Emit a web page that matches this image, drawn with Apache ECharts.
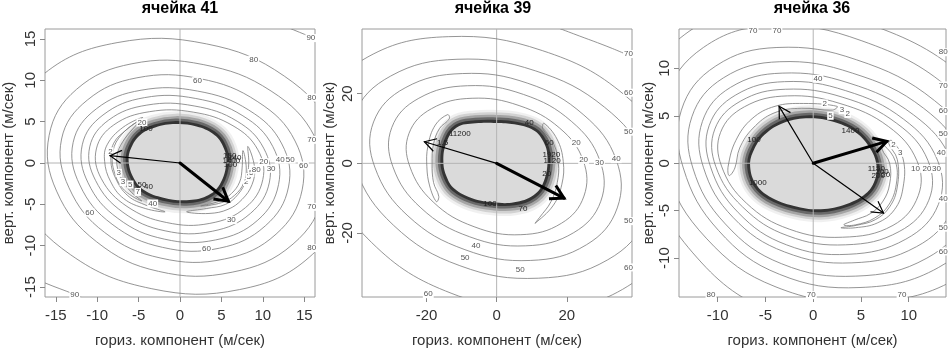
<!DOCTYPE html>
<html><head><meta charset="utf-8">
<script src="https://cdn.jsdelivr.net/npm/echarts@6/dist/echarts.min.js"></script>
<style>html,body{margin:0;padding:0;background:#fff}#c{width:950px;height:348px}</style>
</head><body><div id="c"></div>
<script>
// ---------- DATA ----------
const titles = ['ячейка 41', 'ячейка 39', 'ячейка 36'];
const xName = 'гориз. компонент (м/сек)';
const yName = 'верт. компонент (м/сек)';

const ticks41 = [-15, -10, -5, 0, 5, 10, 15];
const ticks39 = [-20, 0, 20];
const ticks36 = [-10, -5, 0, 5, 10];

const xRange41 = [-16.3, 16.3], yRange41 = [-16.2, 16.2];
const xRange39 = [-38.4, 38.6], yRange39 = [-38.4, 38.6];
const xRange36 = [-14.05, 13.9], yRange36 = [-14.1, 14.15];

// central (unstable) region outline
const core41 = [[5.6,0.2],[5.1,2.2],[4.0,3.5],[2,4.4],[-0.5,4.7],[-3,4.3],[-4.8,3.4],[-5.9,1.8],[-6.2,0.2],[-5.6,-1.8],[-4.3,-3.3],[-2,-4.2],[0.8,-4.5],[3.2,-4.0],[4.8,-2.6]];
const core39 = [[14.5,2],[13.2,6.5],[10.5,9.5],[5,11.2],[0,11.6],[-6,11.5],[-11.4,10.3],[-14.3,6],[-15.2,0.5],[-14.2,-4],[-12,-7.3],[-7,-10],[-1,-11.2],[5,-11.2],[10.5,-9.2],[13.5,-5]];
const core36 = [[6.65,-0.4],[6.0,1.5],[4.4,3.3],[2,4.4],[-0.4,4.75],[-3,4.3],[-5.1,3.0],[-6.3,1.2],[-6.6,-0.4],[-6.0,-2.2],[-4.6,-3.5],[-2,-4.5],[0.8,-4.85],[3.5,-4.3],[5.5,-3.2],[6.4,-1.9]];

// closed contour lines (outer -> inner)
const rings41 = [
 [[19.8,-4.3],[18.6,3.75],[12.6,10.5],[3.2,14.4],[-7.6,14.55],[-16.4,10.8],[-20.8,4.05],[-19.5,-3.95],[-13.2,-11.1],[-3.4,-15.2],[7.2,-15.3],[15.6,-11.4]],
 [[17.3,-3.7],[16.3,3.1],[11.0,8.7],[2.8,11.9],[-5.8,12.0],[-12.5,8.9],[-15.8,3.35],[-14.9,-3.4],[-10.1,-9.5],[-2.6,-13.1],[6.3,-13.2],[13.65,-9.8]],
 [[14.75,-3.25],[13.9,2.65],[9.4,7.4],[2.4,10.2],[-5.2,10.3],[-11.2,7.6],[-14.3,2.9],[-13.4,-3.0],[-9.1,-8.4],[-2.3,-11.5],[5.4,-11.6],[11.6,-8.6]],
 [[13.1,-2.9],[12.3,2.3],[8.3,6.4],[2.1,8.7],[-4.7,8.8],[-10.1,6.55],[-12.9,2.5],[-12.1,-2.65],[-8.2,-7.4],[-2.1,-10.2],[4.75,-10.3],[10.3,-7.6]],
 [[11.9,-2.6],[11.2,2.0],[7.6,5.7],[1.9,7.8],[-4.3,7.9],[-9.3,5.8],[-11.8,2.2],[-11.1,-2.4],[-7.5,-6.7],[-1.9,-9.2],[4.3,-9.3],[9.4,-6.9]],
 [[10.8,-2.3],[10.1,1.8],[6.9,5.05],[1.7,6.9],[-4.0,7.0],[-8.6,5.2],[-10.9,1.95],[-10.2,-2.1],[-6.9,-5.95],[-1.8,-8.2],[3.9,-8.25],[8.5,-6.1]],
 [[10.0,-2.0],[9.4,1.6],[6.4,4.5],[1.6,6.15],[-3.7,6.2],[-8.0,4.6],[-10.1,1.7],[-9.5,-1.9],[-6.4,-5.25],[-1.6,-7.2],[3.6,-7.3],[7.9,-5.4]]
];
const fingers41 = [
 [[-4.5,5.5],[-6.9,4.3],[-8.8,2.2],[-9.1,0.2],[-8.4,-2.2],[-6.8,-4.3],[-4.2,-5.5],[-1.8,-5.9],[-4.0,-5.15],[-6.3,-3.95],[-7.8,-1.8],[-8.35,0.3],[-8.0,2.4],[-6.5,4.0]],
 [[-5.0,5.0],[-7.0,3.5],[-8.1,1.4],[-7.9,-1.2],[-6.7,-3.3],[-4.6,-4.6],[-6.1,-3.3],[-7.35,-1.25],[-7.6,0.8],[-6.9,2.6]],
 [[8.2,2.0],[9.0,-0.5],[8.7,-2.6],[7.5,-4.4],[5.8,-5.6],[3.5,-6.1],[0.8,-5.9],[3.2,-5.5],[5.5,-5.0],[7.0,-3.8],[8.0,-2.0],[8.3,0.0]],
 [[7.6,1.5],[8.0,-0.6],[7.7,-2.4],[6.6,-3.9],[5.0,-4.8],[2.5,-5.2],[4.8,-4.6],[6.2,-3.7],[7.2,-2.3],[7.5,-0.6]]
];
const open41 = [
 [[11.5,17.0],[13.7,16.1],[16.3,15.0],[17.5,14.3]],
 [[-17.5,-13.9],[-16.3,-14.5],[-12.7,-15.9],[-10.5,-16.9]]
];

const rings39 = [
 [[50.4,-19.3],[49.9,1.5],[36.4,19.7],[13,32.4],[-13.8,36.4],[-36.7,30.6],[-49.5,16.7],[-49,-1.7],[-35.7,-22.7],[-12.75,-37.4],[14,-42],[37.4,-35.3]],
 [[42.7,-15.2],[42.2,1.2],[30.8,16.1],[11.0,26.6],[-11.3,29.9],[-30.2,25.1],[-40.7,13.75],[-40.3,-1.3],[-29.4,-17.8],[-10.5,-29.4],[11.9,-33],[31.7,-27.7]],
 [[34.4,-12.8],[34.1,1.0],[24.85,13.9],[8.9,23.0],[-9.8,25.8],[-26.1,21.7],[-35.1,11.9],[-34.75,-1.1],[-25.3,-15.1],[-9.05,-24.8],[9.6,-27.9],[25.6,-23.4]],
 [[29.7,-10.9],[29.4,0.9],[21.4,12.0],[7.65,19.8],[-8.3,22.3],[-22.2,18.7],[-29.9,10.3],[-29.6,-0.95],[-21.6,-12.8],[-7.7,-21.1],[8.3,-23.7],[22.0,-19.9]],
 [[24.9,-9.4],[24.7,0.75],[18.0,10.1],[6.4,16.6],[-7.0,18.7],[-18.6,15.7],[-25.0,8.6],[-24.8,-0.8],[-18.1,-11.1],[-6.45,-18.2],[6.9,-20.5],[18.5,-17.2]]
];
const fingers39 = [
 [[-14,14],[-17.5,11],[-19.6,5],[-19.9,-1],[-19.1,-6.5],[-17.2,-11],[-16.5,-9.5],[-18,-5.5],[-18.4,0],[-18.0,5.5],[-16.3,10],[-13.5,12.8]],
 [[13.5,11.5],[17.2,7],[19,0.5],[18.6,-6],[16.2,-12],[11,-17.2],[12.2,-15.6],[15.5,-11],[17.3,-5.5],[17.6,0],[16.3,5.5],[13.2,9.8]]
];
const open39 = [
 [[12,41],[22,37.2],[33,33],[41,29.5]]
];

const rings36 = [
 [[22.3,-8.05],[22.1,0.66],[16.1,8.9],[5.75,14.7],[-4.9,16.5],[-13.0,13.9],[-17.5,7.6],[-17.3,-0.7],[-12.6,-9.45],[-4.5,-15.6],[6.2,-17.5],[16.6,-14.7]],
 [[19.9,-6.7],[19.7,0.58],[14.35,7.8],[5.1,12.9],[-4.3,14.5],[-11.5,12.2],[-15.5,6.7],[-15.4,-0.58],[-11.2,-7.9],[-4.0,-13.0],[5.5,-14.6],[14.8,-12.3]],
 [[17.65,-6.0],[17.5,0.5],[12.7,6.6],[4.55,10.9],[-3.8,12.2],[-10.2,10.25],[-13.8,5.6],[-13.6,-0.5],[-9.9,-7.1],[-3.55,-11.7],[4.9,-13.1],[13.1,-11.0]],
 [[16.0,-5.5],[15.8,0.43],[11.55,5.8],[4.1,9.5],[-3.5,10.7],[-9.4,9.0],[-12.7,4.9],[-12.6,-0.5],[-9.2,-6.4],[-3.3,-10.6],[4.45,-11.9],[11.9,-10.0]],
 [[14.55,-4.8],[14.4,0.38],[10.5,5.1],[3.75,8.45],[-3.25,9.5],[-8.65,8.0],[-11.6,4.4],[-11.5,-0.42],[-8.4,-5.7],[-3.0,-9.35],[4.05,-10.5],[10.8,-8.8]],
 [[13.1,-4.35],[13.0,0.34],[9.45,4.65],[3.4,7.65],[-3.0,8.6],[-8.1,7.2],[-10.9,3.95],[-10.75,-0.38],[-7.85,-5.2],[-2.8,-8.6],[3.65,-9.6],[9.7,-8.0]],
 [[12.1,-3.9],[12.0,0.31],[8.75,4.2],[3.1,6.95],[-2.9,7.8],[-7.6,6.55],[-10.3,3.6],[-10.2,-0.34],[-7.4,-4.6],[-2.65,-7.65],[3.4,-8.6],[9.0,-7.2]],
 [[11.0,-3.4],[10.85,0.28],[7.9,3.85],[2.8,6.3],[-2.7,7.1],[-7.2,5.95],[-9.7,3.25],[-9.6,-0.3],[-7.0,-4.2],[-2.5,-6.95],[3.05,-7.8],[8.35,-6.55]]
];
const fingers36 = [
 [[2.5,6.0],[-1,6.3],[-4,6.0],[-6.4,4.7],[-8.1,2.4],[-8.9,-0.3],[-8.8,-1.3],[-8.2,-0.5],[-7.7,1.6],[-6.3,3.7],[-4.1,5.3],[-1.2,5.8],[2,5.6]],
 [[7.4,1.9],[8.6,0.2],[8.7,-2.2],[7.9,-4.4],[6.4,-5.8],[4.4,-6.5],[3.2,-6.5],[4.3,-6.0],[6.0,-5.3],[7.3,-4.0],[8.0,-2.2],[8.0,0],[7.2,1.5]],
 [[8.2,2.4],[9.4,0.5],[9.4,-2.6],[8.5,-4.9],[6.7,-6.3],[4.4,-6.8],[2.9,-6.8],[4.5,-6.55],[6.5,-5.95],[8.0,-4.6],[8.8,-2.5],[8.8,0.4],[7.9,2.1]]
];
const open36 = [];

// arrows: [x0, y0, x1, y1]
const thin41 = [[0,0,-8.44,0.88]];
const thick41 = [[0,0,5.83,-4.62]];
const thin39 = [[0,0,-20.6,6.2]];
const thick39 = [[0,0,19.2,-10.0]];
const thin36 = [[0,0,-3.57,6.0],[0,0,7.35,-5.25]];
const thick36 = [[0,0,7.7,2.3]];

// contour labels: [text, x, y]
const labels41 = [
 ['90',15.8,15.1],['80',8.9,12.5],['60',2.1,9.9],['80',15.9,7.9],['70',15.9,2.8],['60',14.9,-0.3],
 ['50',13.3,0.4],['40',12.1,0.4],['30',11.0,-0.7],['20',10.1,0.1],['70',15.9,-5.3],['30',6.2,-6.9],
 ['60',3.2,-10.4],['80',15.9,-10.3],['60',-10.9,-6.0],['40',-3.3,-4.9],['90',-12.7,-15.9],['20',-4.6,4.9],
 ['2',-8.4,1.4],['3',-7.4,-1.2],['3',-6.9,-2.3],['5',-6.0,-2.6],['7',-5.1,-3.5],
 ['2',8.0,-2.3],['3',8.3,-1.7],['5',8.6,-1.2],['80',9.2,-0.8]
];
const band41 = [['150',6.0,0.9],['1400',6.2,0.3],['100',6.1,-0.2],['140',6.6,0.6],['50',-4.6,-2.6],['40',-3.8,-2.9],['100',-4.1,4.1]];
const labels39 = [
 ['70',37.6,31.4],['60',37.6,20.3],['50',37.6,9.1],['40',34.1,1.2],['30',29.3,0.2],['20',24.8,1.0],['20',22.7,5.8],
 ['50',37.6,-16.6],['60',37.6,-29.9],['40',-5.9,-23.8],['50',-9,-27.1],['50',6.7,-30.5],['60',-19.5,-37.6]
];
const band39 = [['11200',-10.5,8.4],['40',9.3,11.7],['60',15.0,5.8],['1920',15.6,2.4],['1120',15.8,0.6],['20',14.3,-3.0],['100',-1.9,-11.5],['70',7.5,-13.2],['1.5',-15.4,5.8]];
const labels36 = [
 ['80',13.6,11.7],['70',13.6,8.2],['60',13.6,5.5],['50',13.6,3.1],['40',13.4,1.1],['40',13.6,-3.7],['50',13.6,-6.8],
 ['60',13.6,-9.3],['70',9.3,-13.9],['70',-0.2,-13.9],['80',-10.7,-13.9],['70',-6.3,14.0],['70',-3.8,14.0],['40',0.5,8.9],
 ['10',10.7,-0.6],['20',11.9,-0.6],['30',12.9,-0.6],['2',1.2,6.3],['3',3.0,5.6],['2',3.6,5.2],['2',8.4,1.9],['3',9.1,1.1],['5',1.8,5.0]
];
const band36 = [['100',-6.2,2.5],['1000',-5.8,-2.1],['1400',3.9,3.4],['1150',6.6,-0.6],['200',7.2,-0.9],['20',7.6,-1.2],['200',6.8,-1.3]];

// ---------- CHART ----------
const FONT = '"Liberation Sans", Arial, sans-serif';
const panels = [
 {grid:{left:45, top:29, width:270, height:268}, xr:xRange41, yr:yRange41, xt:ticks41, yt:ticks41, core:core41, closed:rings41.concat(fingers41), open:open41, thin:thin41, thick:thick41, labels:labels41, band:band41, yNameX:9, cx:180},
 {grid:{left:362, top:29, width:270, height:268}, xr:xRange39, yr:yRange39, xt:ticks39, yt:ticks39, core:core39, closed:rings39.concat(fingers39), open:open39, thin:thin39, thick:thick39, labels:labels39, band:band39, yNameX:330, cx:493},
 {grid:{left:679, top:29, width:267, height:268}, xr:xRange36, yr:yRange36, xt:ticks36, yt:ticks36, core:core36, closed:rings36.concat(fingers36), open:open36, thin:thin36, thick:thick36, labels:labels36, band:band36, yNameX:649, cx:812}
];

const grids = [], xAxes = [], yAxes = [], series = [], graphics = [];
const CONTOUR = '#7a7a7a';

panels.forEach((p, i) => {
  grids.push(Object.assign({show:true, borderColor:'#9a9a9a', borderWidth:1, backgroundColor:'transparent',
    containLabel:false, outerBoundsMode:'none'}, p.grid));
  const common = {gridIndex:i, type:'value', splitLine:{show:false}, nameLocation:'middle', nameMoveOverlap:false,
    nameTextStyle:{fontSize:15, color:'#333', fontFamily:FONT}};
  xAxes.push(Object.assign({}, common, {min:p.xr[0], max:p.xr[1], name:xName, nameGap:36,
    axisLine:{show:false, onZero:false},
    axisTick:{show:true, length:5, customValues:p.xt, lineStyle:{color:'#888'}},
    axisLabel:{customValues:p.xt, fontSize:15, color:'#333', margin:11, fontFamily:FONT}}));
  yAxes.push(Object.assign({}, common, {min:p.yr[0], max:p.yr[1],
    axisLine:{show:false, onZero:false},
    axisTick:{show:true, length:5, customValues:p.yt, lineStyle:{color:'#888'}},
    axisLabel:{customValues:p.yt, fontSize:15, color:'#333', margin:7, rotate:90, fontFamily:FONT}}));

  const base = {type:'custom', xAxisIndex:i, yAxisIndex:i, coordinateSystem:'cartesian2d', silent:true, animation:false};

  // core region with dense band of contours
  series.push(Object.assign({}, base, {z:1, clip:true, data:[p.core[0]],
    renderItem(params, api){
      const pts = p.core.map(q => api.coord(q));
      const mk = (w, c) => ({type:'polygon', shape:{points:pts, smooth:0.4}, style:{fill:'none', stroke:c, lineWidth:w, lineJoin:'round'}});
      return {type:'group', children:[
        mk(26,'rgba(0,0,0,0.06)'), mk(21,'rgba(0,0,0,0.12)'), mk(16,'rgba(0,0,0,0.22)'),
        mk(11,'rgba(0,0,0,0.36)'), mk(6,'rgba(0,0,0,0.5)'),
        {type:'polygon', shape:{points:pts, smooth:0.4}, style:{fill:'#dadada', stroke:'none'}}
      ]};
    }}));

  // zero reference lines
  series.push(Object.assign({}, base, {z:2, clip:true, data:[[0,0]],
    renderItem(params, api){
      const c = api.coord([api.value(0), api.value(1)]);
      const cs = params.coordSys;
      return {type:'group', children:[
        {type:'line', shape:{x1:c[0], y1:cs.y, x2:c[0], y2:cs.y+cs.height}, style:{stroke:'#b4b4b4', lineWidth:1}},
        {type:'line', shape:{x1:cs.x, y1:c[1], x2:cs.x+cs.width, y2:c[1]}, style:{stroke:'#b4b4b4', lineWidth:1}}
      ]};
    }}));

  // closed contour lines
  series.push(Object.assign({}, base, {z:3, clip:true, data:p.closed.map(s => s[0]),
    renderItem(params, api){
      const pts = p.closed[params.dataIndex].map(q => api.coord(q));
      return {type:'polygon', shape:{points:pts, smooth:0.4}, style:{fill:'none', stroke:CONTOUR, lineWidth:0.8}};
    }}));

  // open contour lines
  if (p.open.length) series.push(Object.assign({}, base, {z:3, clip:true, data:p.open.map(s => s[0]),
    renderItem(params, api){
      const pts = p.open[params.dataIndex].map(q => api.coord(q));
      return {type:'polyline', shape:{points:pts, smooth:0.4}, style:{fill:'none', stroke:CONTOUR, lineWidth:0.8}};
    }}));

  // arrows
  const arrowSeries = (data, w, head) => Object.assign({}, base, {z:5, clip:false, data:data, encode:{x:[0,2], y:[1,3]},
    renderItem(params, api){
      const a = api.coord([api.value(0), api.value(1)]);
      const b = api.coord([api.value(2), api.value(3)]);
      const ang = Math.atan2(b[1]-a[1], b[0]-a[0]), h = Math.PI/6;
      const l1 = [b[0]-head*Math.cos(ang-h), b[1]-head*Math.sin(ang-h)];
      const l2 = [b[0]-head*Math.cos(ang+h), b[1]-head*Math.sin(ang+h)];
      return {type:'group', children:[
        {type:'line', shape:{x1:a[0], y1:a[1], x2:b[0], y2:b[1]}, style:{stroke:'#000', lineWidth:w, lineCap:'round'}},
        {type:'polyline', shape:{points:[l1, b, l2]}, style:{stroke:'#000', lineWidth:w, fill:'none', lineJoin:'miter'}}
      ]};
    }});
  series.push(arrowSeries(p.thin, 1.2, 13));
  series.push(arrowSeries(p.thick, 3, 15));

  // contour labels
  series.push(Object.assign({}, base, {z:4, clip:false, data:p.labels.map(l => [l[1], l[2]]),
    renderItem(params, api){
      const c = api.coord([api.value(0), api.value(1)]);
      return {type:'text', x:c[0], y:c[1], style:{text:p.labels[params.dataIndex][0], fontSize:8, fontFamily:FONT,
        fill:'#555', align:'center', verticalAlign:'middle', backgroundColor:'#fff', padding:[0,1]}};
    }}));
  series.push(Object.assign({}, base, {z:4, clip:false, data:p.band.map(l => [l[1], l[2]]),
    renderItem(params, api){
      const c = api.coord([api.value(0), api.value(1)]);
      return {type:'text', x:c[0], y:c[1], style:{text:p.band[params.dataIndex][0], fontSize:8, fontFamily:FONT,
        fill:'#222', align:'center', verticalAlign:'middle'}};
    }}));

  graphics.push({type:'text', x:p.cx, y:9, style:{text:titles[i], fontSize:16, fontWeight:'bold', fontFamily:FONT,
    fill:'#000', align:'center', verticalAlign:'middle'}});
  graphics.push({type:'text', x:p.yNameX, y:p.grid.top + p.grid.height / 2, rotation:Math.PI / 2,
    style:{text:yName, fontSize:15, fontFamily:FONT, fill:'#333', align:'center', verticalAlign:'middle'}});
});

const chart = echarts.init(document.getElementById('c'));
chart.setOption({
  backgroundColor:'#fff', animation:false,
  grid:grids, xAxis:xAxes, yAxis:yAxes, series:series, graphic:graphics
});
</script></body></html>
